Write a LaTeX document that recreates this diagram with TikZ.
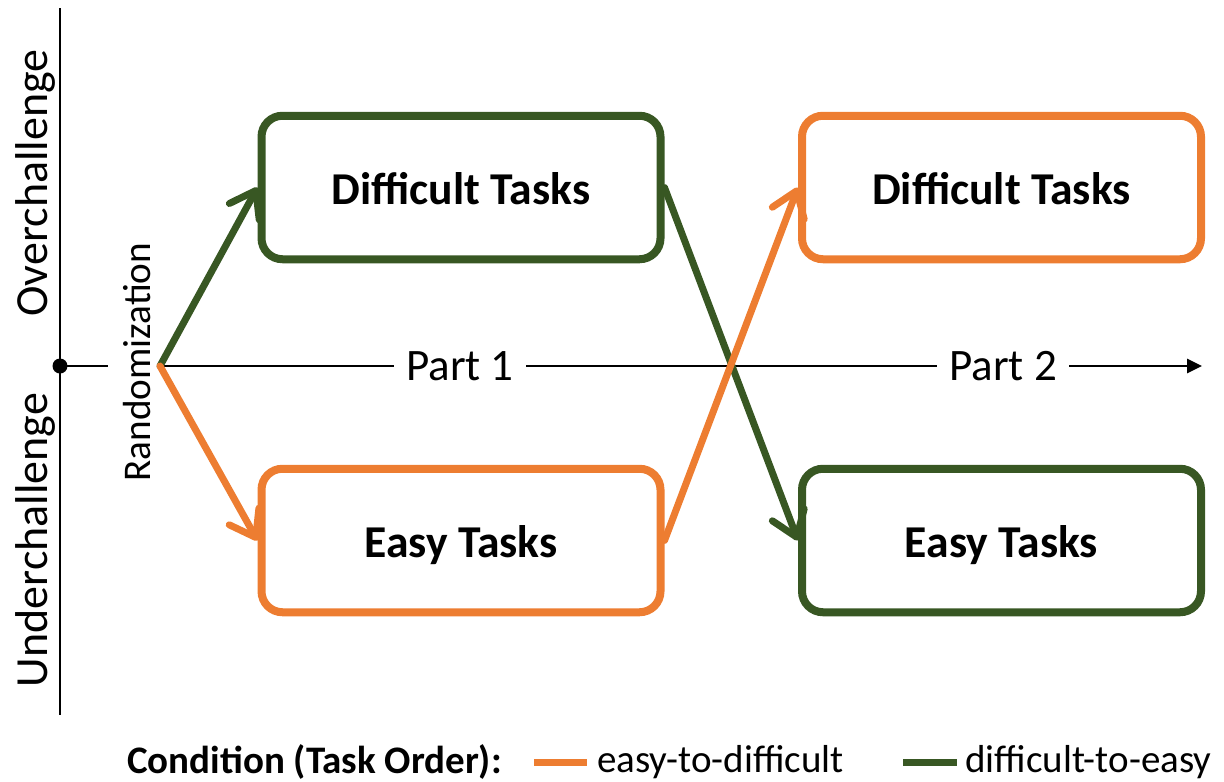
\documentclass[tikz,border=0pt]{standalone}
\usepackage{fontspec}
\setmainfont{Carlito}
\usetikzlibrary{arrows.meta}
\definecolor{eorange}{HTML}{ED7D31}
\definecolor{dgreen}{HTML}{385723}
\tikzset{
  taskbox/.style={draw, line width=8pt, rounded corners=21pt, minimum width=399pt, minimum height=143.5pt, inner sep=0pt, text height=38pt, text depth=5pt, font=\fontsize{45.6}{52}\selectfont\bfseries},
  flow/.style={line width=7pt, line cap=round, -{Straight Barb[length=24pt,width=34pt,round]}},
  axis/.style={line width=2.8pt},
  sidelabel/.style={rotate=90, inner sep=0pt, font=\fontsize{46}{52}\selectfont},
  partlabel/.style={fill=white, inner xsep=12pt, inner ysep=2pt, font=\fontsize{45}{52}\selectfont},
  legtext/.style={anchor=west, inner sep=0pt, font=\fontsize{39}{45}\selectfont},
  legline/.style={line width=7pt},
}
\begin{document}
\begin{tikzpicture}[x=1pt,y=-1pt]
\useasboundingbox (0,0) rectangle (1224,782);
% axes
\coordinate (ytop) at (60,8);
\coordinate (ybot) at (60,715);
\draw[axis] (ytop) -- (ybot);
\node[circle, fill=black, minimum size=15pt, inner sep=0pt] (origin) at (60,366) {};
\coordinate (stub) at (108,366);
\coordinate (rand) at (160,366);
\coordinate (xend) at (1202,366);
\draw[axis] (origin.center) -- (stub);
\draw[axis, -{Triangle[length=15pt,width=14pt]}] (rand) -- (xend);
\node[partlabel] (part1) at (460,366) {Part 1};
\node[partlabel] (part2) at (1003,366) {Part 2};
% side labels
\node[sidelabel] (over) at (35,183) {Overchallenge};
\node[sidelabel] (under) at (35,540) {Underchallenge};
\node[sidelabel, font=\fontsize{39.2}{45}\selectfont] (randlab) at (137,362) {Randomization};
% boxes
\node[taskbox, draw=dgreen] (d1) at (461,187.5) {Difficult Tasks};
\node[taskbox, draw=eorange] (e1) at (461,540.5) {Easy Tasks};
\node[taskbox, draw=eorange] (d2) at (1001.5,187.5) {Difficult Tasks};
\node[taskbox, draw=dgreen] (e2) at (1001.5,540.5) {Easy Tasks};
% connectors
\draw[flow, dgreen] (rand) -- (d1.west);
\draw[flow, eorange] (rand) -- (e1.west);
\draw[flow, dgreen] (d1.east) -- (e2.west);
\draw[flow, eorange] (e1.east) -- (d2.west);
% legend
\node[legtext, font=\fontsize{39}{45}\selectfont\bfseries] (legtitle) at (127,762) {Condition (Task Order):};
\coordinate (lo1) at (534,762);
\coordinate (lo2) at (587,762);
\draw[legline, eorange] (lo1) -- (lo2);
\node[legtext] (legeasy) at (597,762) {easy-to-difficult};
\coordinate (lg1) at (903,762);
\coordinate (lg2) at (957,762);
\draw[legline, dgreen] (lg1) -- (lg2);
\node[legtext] (legdiff) at (965,762) {difficult-to-easy};
\end{tikzpicture}
\end{document}
